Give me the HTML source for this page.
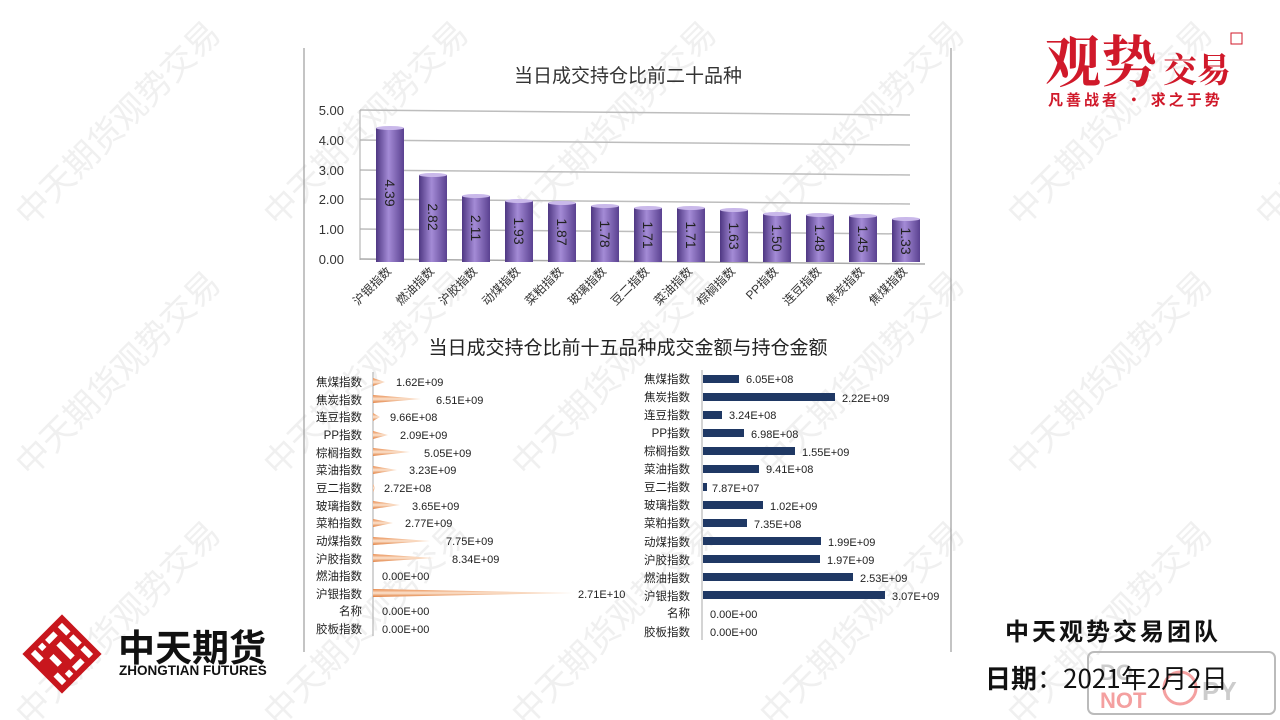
<!DOCTYPE html>
<html><head><meta charset="utf-8"><style>
html,body{margin:0;padding:0;background:#fff;}
svg{display:block;font-family:"Liberation Sans","Noto Sans CJK SC",sans-serif;}
</style></head><body>
<svg width="1280" height="720" viewBox="0 0 1280 720" xmlns="http://www.w3.org/2000/svg">
<defs>
<linearGradient id="pb" x1="0" x2="1" y1="0" y2="0">
<stop offset="0" stop-color="#4e3782"/><stop offset="0.45" stop-color="#a48bd6"/><stop offset="1" stop-color="#5a4190"/>
</linearGradient>
<linearGradient id="ob" x1="0" x2="0" y1="0" y2="1">
<stop offset="0" stop-color="#e8894a"/><stop offset="0.5" stop-color="#fbe3cf"/><stop offset="1" stop-color="#e07a38"/>
</linearGradient>
</defs>
<g fill="#f0f0f0" font-size="34" font-family="'Noto Sans CJK SC',sans-serif">
<text transform="translate(30,228) rotate(-45)">中天期货观势交易</text>
<text transform="translate(278,228) rotate(-45)">中天期货观势交易</text>
<text transform="translate(526,228) rotate(-45)">中天期货观势交易</text>
<text transform="translate(774,228) rotate(-45)">中天期货观势交易</text>
<text transform="translate(1022,228) rotate(-45)">中天期货观势交易</text>
<text transform="translate(1270,228) rotate(-45)">中天期货观势交易</text>
<text transform="translate(30,478) rotate(-45)">中天期货观势交易</text>
<text transform="translate(278,478) rotate(-45)">中天期货观势交易</text>
<text transform="translate(526,478) rotate(-45)">中天期货观势交易</text>
<text transform="translate(774,478) rotate(-45)">中天期货观势交易</text>
<text transform="translate(1022,478) rotate(-45)">中天期货观势交易</text>
<text transform="translate(30,728) rotate(-45)">中天期货观势交易</text>
<text transform="translate(278,728) rotate(-45)">中天期货观势交易</text>
<text transform="translate(526,728) rotate(-45)">中天期货观势交易</text>
<text transform="translate(774,728) rotate(-45)">中天期货观势交易</text>
<text transform="translate(1022,728) rotate(-45)">中天期货观势交易</text>
</g>
<line x1="304" y1="48" x2="304" y2="652" stroke="#888" stroke-width="1"/>
<line x1="951" y1="48" x2="951" y2="652" stroke="#888" stroke-width="1"/>

<text x="628" y="82" font-size="19" text-anchor="middle" fill="#333">当日成交持仓比前二十品种</text>
<g stroke="#bdbdbd" stroke-width="1.5">
<line x1="360" y1="110" x2="910" y2="115"/><line x1="360" y1="140" x2="910" y2="145"/>
<line x1="360" y1="170" x2="910" y2="175"/><line x1="360" y1="199" x2="910" y2="204"/>
<line x1="360" y1="229" x2="910" y2="234"/>
</g>
<line x1="360" y1="259" x2="925" y2="264" stroke="#aaa" stroke-width="1.5"/>
<line x1="360" y1="110" x2="360" y2="260" stroke="#aaa"/>
<g font-size="13" fill="#333" text-anchor="end">
<text x="344" y="115">5.00</text><text x="344" y="145">4.00</text><text x="344" y="175">3.00</text>
<text x="344" y="204">2.00</text><text x="344" y="234">1.00</text><text x="344" y="264">0.00</text>
</g>
<g fill="url(#pb)">
<rect x="376" y="128" width="28" height="134"/><rect x="419" y="175" width="28" height="87"/>
<rect x="462" y="196" width="28" height="66"/><rect x="505" y="201" width="28" height="61"/>
<rect x="548" y="203" width="28" height="59"/><rect x="591" y="206" width="28" height="56"/>
<rect x="634" y="208" width="28" height="54"/><rect x="677" y="208" width="28" height="54"/>
<rect x="720" y="210" width="28" height="52"/><rect x="763" y="214" width="28" height="48"/>
<rect x="806" y="215" width="28" height="47"/><rect x="849" y="216" width="28" height="46"/>
<rect x="892" y="219" width="28" height="43"/>
</g>
<g fill="#c9b8ea">
<ellipse cx="390" cy="128" rx="14" ry="2"/><ellipse cx="433" cy="175" rx="14" ry="2"/>
<ellipse cx="476" cy="196" rx="14" ry="2"/><ellipse cx="519" cy="201" rx="14" ry="2"/>
<ellipse cx="562" cy="203" rx="14" ry="2"/><ellipse cx="605" cy="206" rx="14" ry="2"/>
<ellipse cx="648" cy="208" rx="14" ry="2"/><ellipse cx="691" cy="208" rx="14" ry="2"/>
<ellipse cx="734" cy="210" rx="14" ry="2"/><ellipse cx="777" cy="214" rx="14" ry="2"/>
<ellipse cx="820" cy="215" rx="14" ry="2"/><ellipse cx="863" cy="216" rx="14" ry="2"/>
<ellipse cx="906" cy="219" rx="14" ry="2"/>
</g>
<g font-size="14" fill="#222" text-anchor="middle">
<text transform="translate(385,193) rotate(90)">4.39</text>
<text transform="translate(428,217) rotate(90)">2.82</text>
<text transform="translate(471,228) rotate(90)">2.11</text>
<text transform="translate(514,231) rotate(90)">1.93</text>
<text transform="translate(557,232) rotate(90)">1.87</text>
<text transform="translate(600,234) rotate(90)">1.78</text>
<text transform="translate(643,235) rotate(90)">1.71</text>
<text transform="translate(686,235) rotate(90)">1.71</text>
<text transform="translate(729,236) rotate(90)">1.63</text>
<text transform="translate(772,238) rotate(90)">1.50</text>
<text transform="translate(815,238) rotate(90)">1.48</text>
<text transform="translate(858,239) rotate(90)">1.45</text>
<text transform="translate(901,241) rotate(90)">1.33</text>
</g>
<g font-size="12" fill="#333" text-anchor="end">
<text transform="translate(392,272) rotate(-45)">沪银指数</text>
<text transform="translate(435,272) rotate(-45)">燃油指数</text>
<text transform="translate(478,272) rotate(-45)">沪胶指数</text>
<text transform="translate(521,272) rotate(-45)">动煤指数</text>
<text transform="translate(564,272) rotate(-45)">菜粕指数</text>
<text transform="translate(607,272) rotate(-45)">玻璃指数</text>
<text transform="translate(650,272) rotate(-45)">豆二指数</text>
<text transform="translate(693,272) rotate(-45)">菜油指数</text>
<text transform="translate(736,272) rotate(-45)">棕榈指数</text>
<text transform="translate(779,272) rotate(-45)">PP指数</text>
<text transform="translate(822,272) rotate(-45)">连豆指数</text>
<text transform="translate(865,272) rotate(-45)">焦炭指数</text>
<text transform="translate(908,272) rotate(-45)">焦煤指数</text>
</g>

<text x="628" y="354" font-size="19" text-anchor="middle" fill="#222">当日成交持仓比前十五品种成交金额与持仓金额</text>

<line x1="373" y1="372" x2="373" y2="636" stroke="#aaa"/>
<g font-size="11.5" fill="#222" text-anchor="end">
<text x="362" y="386">焦煤指数</text><text x="362" y="404">焦炭指数</text><text x="362" y="421">连豆指数</text>
<text x="362" y="439">PP指数</text><text x="362" y="457">棕榈指数</text><text x="362" y="474">菜油指数</text>
<text x="362" y="492">豆二指数</text><text x="362" y="510">玻璃指数</text><text x="362" y="527">菜粕指数</text>
<text x="362" y="545">动煤指数</text><text x="362" y="563">沪胶指数</text><text x="362" y="580">燃油指数</text>
<text x="362" y="598">沪银指数</text><text x="362" y="615">名称</text><text x="362" y="633">胶板指数</text>
</g>
<g fill="url(#ob)">
<polygon points="373,378 373,386 385,382"/>
<polygon points="373,395 373,403 421,399"/>
<polygon points="373,413 373,421 380,417"/>
<polygon points="373,431 373,439 388,435"/>
<polygon points="373,448 373,456 410,452"/>
<polygon points="373,466 373,474 397,470"/>
<polygon points="373,484 373,492 375,488"/>
<polygon points="373,501 373,509 400,505"/>
<polygon points="373,519 373,527 393,523"/>
<polygon points="373,537 373,545 430,541"/>
<polygon points="373,554 373,562 434,558"/>
<polygon points="373,589 373,597 573,593"/>
</g>
<g font-size="11" fill="#222">
<text x="396" y="386">1.62E+09</text><text x="436" y="404">6.51E+09</text><text x="390" y="421">9.66E+08</text>
<text x="400" y="439">2.09E+09</text><text x="424" y="457">5.05E+09</text><text x="409" y="474">3.23E+09</text>
<text x="384" y="492">2.72E+08</text><text x="412" y="510">3.65E+09</text><text x="405" y="527">2.77E+09</text>
<text x="446" y="545">7.75E+09</text><text x="452" y="563">8.34E+09</text><text x="382" y="580">0.00E+00</text>
<text x="578" y="598">2.71E+10</text><text x="382" y="615">0.00E+00</text><text x="382" y="633">0.00E+00</text>
</g>

<line x1="702" y1="370" x2="702" y2="640" stroke="#aaa"/>
<g font-size="11.5" fill="#222" text-anchor="end">
<text x="690" y="383">焦煤指数</text><text x="690" y="401">焦炭指数</text><text x="690" y="419">连豆指数</text>
<text x="690" y="437">PP指数</text><text x="690" y="455">棕榈指数</text><text x="690" y="473">菜油指数</text>
<text x="690" y="491">豆二指数</text><text x="690" y="509">玻璃指数</text><text x="690" y="527">菜粕指数</text>
<text x="690" y="546">动煤指数</text><text x="690" y="564">沪胶指数</text><text x="690" y="582">燃油指数</text>
<text x="690" y="600">沪银指数</text><text x="690" y="617">名称</text><text x="690" y="636">胶板指数</text>
</g>
<g fill="#1f3864">
<rect x="703" y="375" width="36" height="8"/><rect x="703" y="393" width="132" height="8"/>
<rect x="703" y="411" width="19" height="8"/><rect x="703" y="429" width="41" height="8"/>
<rect x="703" y="447" width="92" height="8"/><rect x="703" y="465" width="56" height="8"/>
<rect x="703" y="483" width="4" height="8"/><rect x="703" y="501" width="60" height="8"/>
<rect x="703" y="519" width="44" height="8"/><rect x="703" y="537" width="118" height="8"/>
<rect x="703" y="555" width="117" height="8"/><rect x="703" y="573" width="150" height="8"/>
<rect x="703" y="591" width="182" height="8"/>
</g>
<g font-size="11" fill="#222">
<text x="746" y="383">6.05E+08</text><text x="842" y="402">2.22E+09</text><text x="729" y="419">3.24E+08</text>
<text x="751" y="438">6.98E+08</text><text x="802" y="456">1.55E+09</text><text x="766" y="473">9.41E+08</text>
<text x="712" y="492">7.87E+07</text><text x="770" y="510">1.02E+09</text><text x="754" y="528">7.35E+08</text>
<text x="828" y="546">1.99E+09</text><text x="827" y="564">1.97E+09</text><text x="860" y="582">2.53E+09</text>
<text x="892" y="600">3.07E+09</text><text x="710" y="618">0.00E+00</text><text x="710" y="636">0.00E+00</text>
</g>

<g fill="#d0192a" font-family="'Noto Serif CJK SC','Noto Sans CJK SC',serif" font-weight="bold">
<text x="1045" y="82" font-size="56">观势</text>
<text x="1163" y="82" font-size="34">交易</text>
<text x="1048" y="105" font-size="15" font-family="'Noto Sans CJK SC',sans-serif" letter-spacing="3">凡善战者 · 求之于势</text>
</g>
<rect x="1231" y="33" width="11" height="11" fill="none" stroke="#d0192a"/>

<g transform="translate(62,654) rotate(45)">
<rect x="-28" y="-28" width="56" height="56" fill="#c8161d"/>
<g fill="#fff">
<rect x="-22" y="-22" width="12" height="6"/><rect x="-6" y="-22" width="12" height="6"/><rect x="10" y="-22" width="12" height="6"/>
<rect x="-22" y="-10" width="6" height="12"/><rect x="-10" y="-8" width="20" height="6"/><rect x="16" y="-10" width="6" height="12"/>
<rect x="-22" y="16" width="12" height="6"/><rect x="-6" y="6" width="12" height="6"/><rect x="10" y="16" width="12" height="6"/>
<rect x="-22" y="6" width="6" height="6"/><rect x="16" y="6" width="6" height="6"/>
</g>
</g>
<text x="118" y="661" font-size="37" font-weight="bold" fill="#111" font-family="'Noto Sans CJK SC',sans-serif">中天期货</text>
<text x="119" y="675" font-size="13.5" font-weight="bold" fill="#111">ZHONGTIAN FUTURES</text>

<text x="1005" y="640" font-size="24" font-weight="bold" fill="#111" font-family="'Noto Sans CJK SC',sans-serif" letter-spacing="3">中天观势交易团队</text>
<rect x="1088" y="652" width="187" height="62" rx="6" fill="none" stroke="#bbb" stroke-width="2"/>
<text x="1100" y="680" font-size="22" fill="#ccc" font-weight="bold">DO</text>
<text x="1100" y="708" font-size="22" fill="#f4a0a0" font-weight="bold">NOT</text>
<circle cx="1180" cy="688" r="16" fill="none" stroke="#f4a0a0" stroke-width="3"/>
<text x="1202" y="700" font-size="26" fill="#ccc" font-weight="bold">PY</text>
<text x="985" y="688" font-size="26" fill="#111" font-family="'Noto Sans CJK SC',sans-serif"><tspan font-weight="bold">日期</tspan>：2021年2月2日</text>
</svg>
</body></html>
